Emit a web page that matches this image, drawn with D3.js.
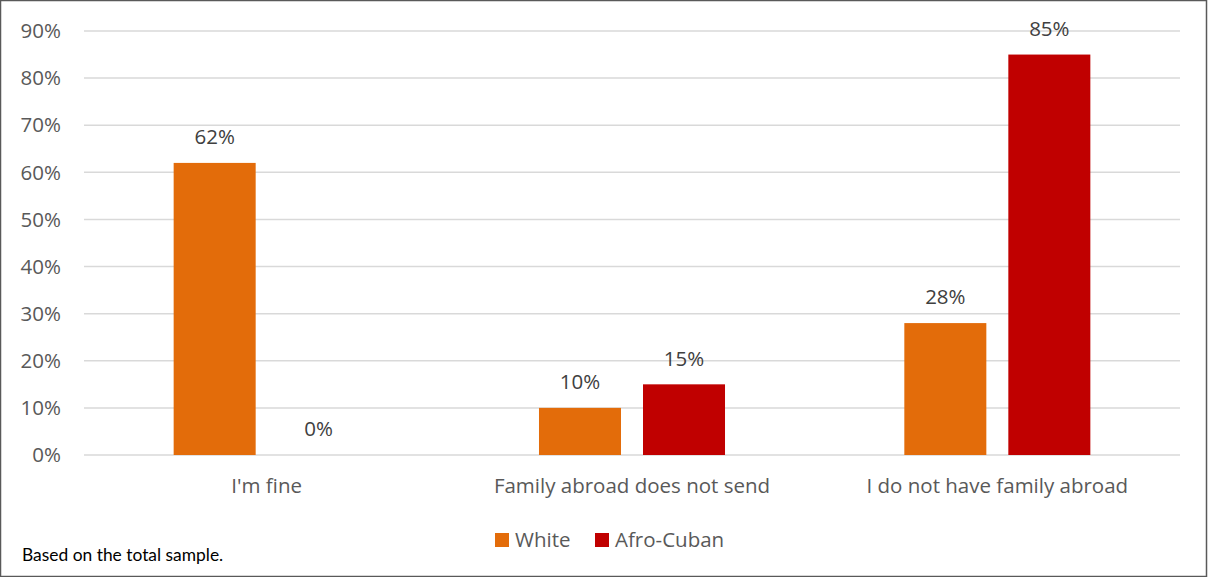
<!DOCTYPE html>
<html><head><meta charset="utf-8">
<script src="https://cdn.jsdelivr.net/npm/d3@7"></script>
<style>body{margin:0;background:#fff}svg{display:block}</style>
</head><body>
<script>
const categories = ["I'm fine", "Family abroad does not send", "I do not have family abroad"];
const seriesNames = ["White", "Afro-Cuban"];
const white = [62, 10, 28];
const afroCuban = [0, 15, 85];
const yTicks = [0, 10, 20, 30, 40, 50, 60, 70, 80, 90];
const colors = ["#E36C0A", "#C00000"];
const note = "Based on the total sample.";

const W = 1208, H = 577;
const font = "'Open Sans', sans-serif";
const fs = 20.5;
const svg = d3.select("body").append("svg").attr("width", W).attr("height", H);
svg.append("rect").attr("x", 0.5).attr("y", 0.5).attr("width", W - 2).attr("height", H - 1)
  .attr("fill", "#fff").attr("stroke", "#595959").attr("stroke-width", 1.5);

const pLeft = 84, pRight = 1180, pTop = 31, pBottom = 455;
const y = d3.scaleLinear().domain([0, 90]).range([pBottom, pTop]);
const x0 = d3.scaleBand().domain(categories).range([pLeft, pRight]).padding(0);
const x1 = d3.scaleBand().domain(seriesNames).range([0, x0.bandwidth()]).paddingInner(0.2115).paddingOuter(0.862);

svg.append("g").selectAll("line").data(yTicks).join("line")
  .attr("x1", pLeft).attr("x2", pRight)
  .attr("y1", d => y(d)).attr("y2", d => y(d))
  .attr("stroke", "#d9d9d9").attr("stroke-width", 1.5);

svg.append("g").selectAll("text").data(yTicks).join("text")
  .attr("x", 61).attr("y", d => y(d)).attr("dy", "0.35em")
  .attr("text-anchor", "end").attr("font-family", font).attr("font-size", fs)
  .attr("fill", "#595959").text(d => d + "%");

const data = [];
categories.forEach((c, i) => {
  data.push({cat: c, s: seriesNames[0], v: white[i], col: colors[0]});
  data.push({cat: c, s: seriesNames[1], v: afroCuban[i], col: colors[1]});
});

svg.append("g").selectAll("rect").data(data).join("rect")
  .attr("x", d => x0(d.cat) + x1(d.s)).attr("width", x1.bandwidth())
  .attr("y", d => y(d.v)).attr("height", d => y(0) - y(d.v))
  .attr("fill", d => d.col);

svg.append("g").selectAll("text").data(data).join("text")
  .attr("x", d => x0(d.cat) + x1(d.s) + x1.bandwidth() / 2)
  .attr("y", d => y(d.v) - 26).attr("dy", "0.35em")
  .attr("text-anchor", "middle").attr("font-family", font).attr("font-size", fs)
  .attr("fill", "#404040").text(d => d.v + "%");

svg.append("g").selectAll("text").data(categories).join("text")
  .attr("x", d => x0(d) + x0.bandwidth() / 2).attr("y", 486).attr("dy", "0.35em")
  .attr("text-anchor", "middle").attr("font-family", font).attr("font-size", fs)
  .attr("fill", "#595959").text(d => d);

const legX = [495, 595];
const lg = svg.append("g").selectAll("g").data(seriesNames).join("g")
  .attr("transform", (d, i) => `translate(${legX[i]},533)`);
lg.append("rect").attr("width", 14).attr("height", 14).attr("fill", (d, i) => colors[i]);
lg.append("text").attr("x", 20).attr("y", 7).attr("dy", "0.35em")
  .attr("font-family", font).attr("font-size", fs).attr("fill", "#595959").text(d => d);

svg.append("text").attr("x", 22).attr("y", 555).attr("dy", "0.35em")
  .attr("font-family", "Lato, sans-serif").attr("font-size", 17.4).attr("fill", "#000").text(note);
</script>
</body></html>
